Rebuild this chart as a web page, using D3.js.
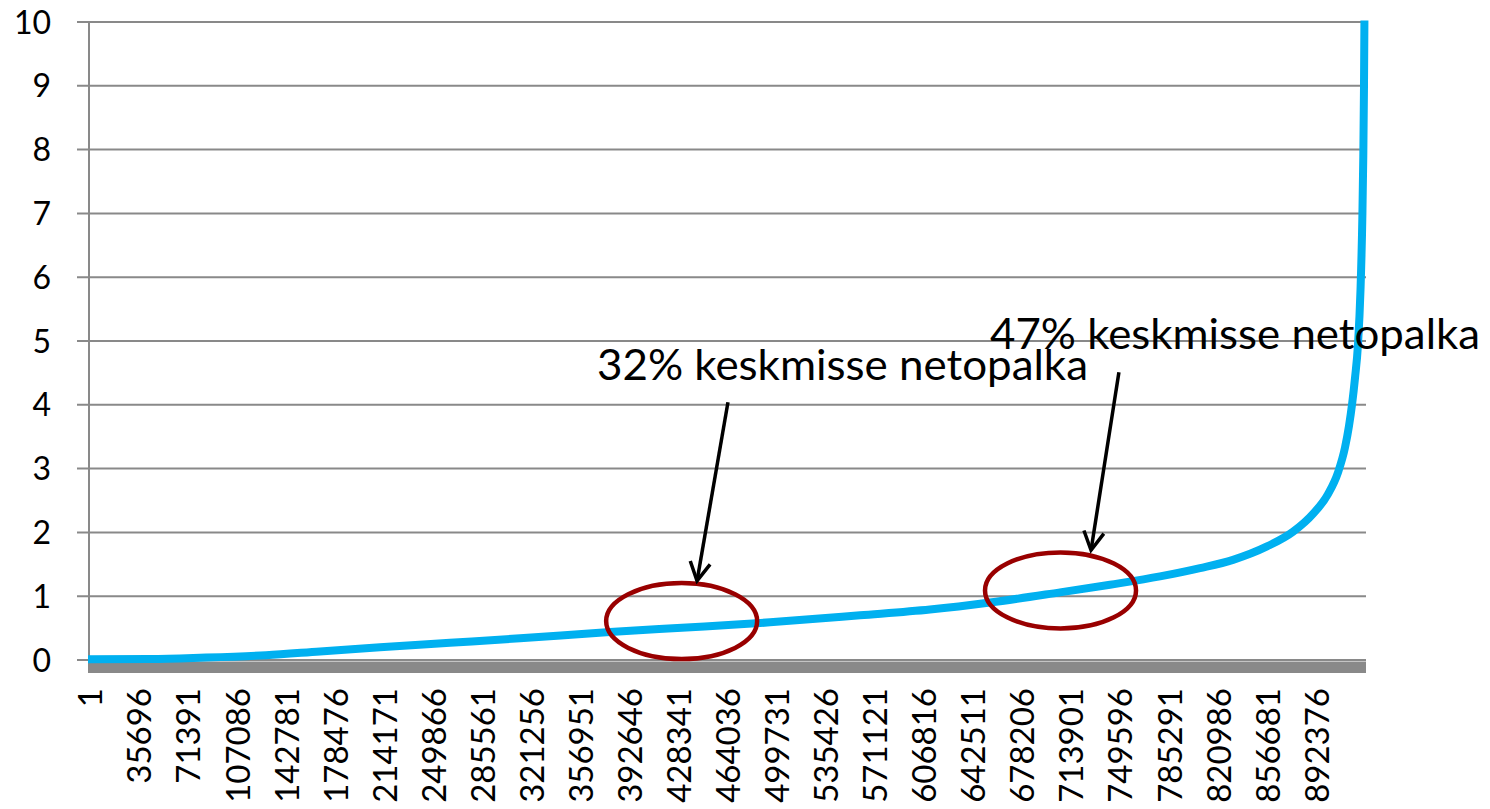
<!DOCTYPE html>
<html>
<head>
<meta charset="utf-8">
<script src="https://d3js.org/d3.v7.min.js"></script>
<style>
    body { margin: 0; background: #ffffff; }
    svg { display: block; font-family: Lato, "Open Sans", sans-serif; }
</style>
</head>
<body>
<div id="chart"></div>
<script>
// rank of the person (sorted) and the ratio to the average net salary
var rank = [1, 45117, 81502, 129531, 168826, 212488, 263427, 314366, 379859, 445352,
            496291, 561784, 612723, 656385, 707324, 743709, 780094, 809202, 833216, 857958,
            876878, 891432, 902347, 909624, 914718, 917629, 919812, 921995, 924178, 925998,
            927308, 928035, 928545, 928908, 929636];
var ratio = [0.01, 0.015, 0.035, 0.075, 0.135, 0.20, 0.27, 0.34, 0.44, 0.52,
             0.59, 0.70, 0.79, 0.90, 1.06, 1.18, 1.31, 1.44, 1.57, 1.78,
             2.01, 2.29, 2.60, 2.94, 3.33, 3.67, 4.0, 4.42, 4.95, 5.8,
             6.9, 7.9, 9.0, 10.2, 14];

var x_ticks = [1, 35696, 71391, 107086, 142781, 178476, 214171, 249866, 285561, 321256,
               356951, 392646, 428341, 464036, 499731, 535426, 571121, 606816, 642511, 678206,
               713901, 749596, 785291, 820986, 856681, 892376];
var y_ticks = [0, 1, 2, 3, 4, 5, 6, 7, 8, 9, 10];
var total_rank = 930000;

// annotations in data units
var notes = [
    { text: "32% keskmisse netopalka", tx: 370400, ty: 4.39, len: 491,
      ax1: 465700, ay1: 4.04, ax2: 443200, ay2: 1.24, ex: 432000, ey: 0.61 },
    { text: "47% keskmisse netopalka", tx: 656400, ty: 4.87, len: 490,
      ax1: 750200, ay1: 4.51, ax2: 729900, ay2: 1.72, ex: 707700, ey: 1.09 }
];

function draw_chart() {
    var width = 1490;
    var height = 809;
    var left = 88, right = 1366, top = 22, bottom = 660;

    var svg = d3.select("#chart")
        .append("svg")
        .attr("width", width)
        .attr("height", height);

    var x = d3.scaleLinear().domain([1, total_rank]).range([left, right]);
    var y = d3.scaleLinear().domain([0, 10]).range([bottom, top]);

    var grid_color = "#898989";

    // gridlines (with the small ticks left of the axis)
    svg.append("g").attr("class", "grid")
        .selectAll("line").data(y_ticks).enter()
        .append("line")
            .attr("x1", left - 11)
            .attr("x2", right)
            .attr("y1", function(d) { return y(d); })
            .attr("y2", function(d) { return y(d); })
            .attr("stroke", grid_color)
            .attr("stroke-width", 2);

    // y axis line
    svg.append("line")
        .attr("x1", left + 1).attr("x2", left + 1)
        .attr("y1", y(10)).attr("y2", y(0))
        .attr("stroke", grid_color)
        .attr("stroke-width", 2);

    // thick category axis
    svg.append("rect")
        .attr("x", left)
        .attr("y", y(0) + 1.5)
        .attr("width", right - left)
        .attr("height", 11.5)
        .attr("fill", grid_color);

    // y labels
    svg.append("g").attr("class", "y-labels")
        .selectAll("text").data(y_ticks).enter()
        .append("text")
            .attr("x", 51)
            .attr("y", function(d) { return y(d); })
            .attr("dy", "0.36em")
            .attr("text-anchor", "end")
            .attr("font-size", 32)
            .attr("fill", "#000")
            .text(function(d) { return d; });

    // x labels, rotated
    svg.append("g").attr("class", "x-labels")
        .selectAll("text").data(x_ticks).enter()
        .append("text")
            .attr("transform", function(d) { return "translate(" + (x(d) + 2.5) + ",688) rotate(-90)"; })
            .attr("dy", "0.36em")
            .attr("text-anchor", "end")
            .attr("font-size", 33)
            .attr("fill", "#000")
            .text(function(d) { return d; });

    // the curve, cut at the top of the plot
    svg.append("clipPath").attr("id", "plot-clip")
        .append("rect")
            .attr("x", left - 5)
            .attr("y", top - 1.5)
            .attr("width", right - left + 10)
            .attr("height", bottom - top + 20);

    var points = rank.map(function(r, i) { return [r, ratio[i]]; });
    var line = d3.line()
        .x(function(d) { return x(d[0]); })
        .y(function(d) { return y(d[1]); })
        .curve(d3.curveMonotoneX);

    svg.append("path")
        .datum(points)
        .attr("clip-path", "url(#plot-clip)")
        .attr("d", line)
        .attr("fill", "none")
        .attr("stroke", "#00b0f0")
        .attr("stroke-width", 8)
        .attr("stroke-linejoin", "round");

    // annotations
    var g = svg.append("g").attr("class", "notes");

    g.selectAll("ellipse").data(notes).enter()
        .append("ellipse")
            .attr("cx", function(d) { return x(d.ex); })
            .attr("cy", function(d) { return y(d.ey); })
            .attr("rx", 75.5)
            .attr("ry", 38)
            .attr("fill", "none")
            .attr("stroke", "#990000")
            .attr("stroke-width", 4.5);

    notes.forEach(function(d) {
        var x1 = x(d.ax1), y1 = y(d.ay1), x2 = x(d.ax2), y2 = y(d.ay2);
        var ang = Math.atan2(y2 - y1, x2 - x1);
        var head = 21, spread = 0.5;
        g.append("line")
            .attr("x1", x1).attr("y1", y1)
            .attr("x2", x2).attr("y2", y2)
            .attr("stroke", "#000")
            .attr("stroke-width", 3.5);
        g.append("path")
            .attr("d", "M" + (x2 - head * Math.cos(ang - spread)) + "," + (y2 - head * Math.sin(ang - spread)) +
                       "L" + x2 + "," + y2 +
                       "L" + (x2 - head * Math.cos(ang + spread)) + "," + (y2 - head * Math.sin(ang + spread)))
            .attr("fill", "none")
            .attr("stroke", "#000")
            .attr("stroke-width", 3.5)
            .attr("stroke-linejoin", "miter");
    });

    g.selectAll("text").data(notes).enter()
        .append("text")
            .attr("x", function(d) { return x(d.tx); })
            .attr("y", function(d) { return y(d.ty); })
            .attr("font-size", 42)
            .attr("textLength", function(d) { return d.len; })
            .attr("lengthAdjust", "spacingAndGlyphs")
            .attr("fill", "#000")
            .text(function(d) { return d.text; });
}

draw_chart();
</script>
</body>
</html>
